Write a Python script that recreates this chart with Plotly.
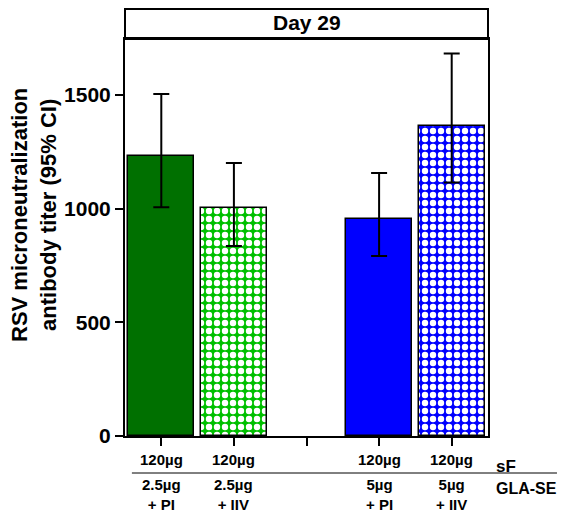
import plotly.graph_objects as go

# ---- data ----
positions = [0, 1, 3, 4]
values = [1232, 1003, 955, 1366]
ci_upper = [1505, 1201, 1157, 1683]
ci_lower = [1007, 836, 792, 1115]
row1_labels = ["120µg", "120µg", "120µg", "120µg"]
row2_labels = ["2.5µg<br>+ PI", "2.5µg<br>+ IIV", "5µg<br>+ PI", "5µg<br>+ IIV"]
y_ticks = [0, 500, 1000, 1500]
panel_title = "Day 29"
y_title = "RSV microneutralization<br>antibody titer (95% CI)"

# ---- styles ----
bar_colors = ["#007000", "#00c000", "#0000ff", "#0000ff"]
patterned = [False, True, False, True]
FONT = "Liberation Sans, Arial, sans-serif"

fig = go.Figure()
for i in range(len(values)):
    marker = dict(color=bar_colors[i], line=dict(color="black", width=1.5))
    if patterned[i]:
        marker["pattern"] = dict(shape=".", fgcolor="white", bgcolor=bar_colors[i],
                                 fillmode="replace", size=8, solidity=0.5)
    fig.add_trace(go.Bar(
        x=[positions[i]], y=[values[i]], width=0.91, marker=marker,
        error_y=dict(type="data", symmetric=False,
                     array=[ci_upper[i] - values[i]],
                     arrayminus=[values[i] - ci_lower[i]],
                     color="black", thickness=2, width=8),
        showlegend=False, hoverinfo="skip"))

annotations = []
for i in range(len(values)):
    annotations.append(dict(x=positions[i], y=-0.06, xref="x", yref="paper",
                            text=row1_labels[i], showarrow=False, yanchor="middle",
                            font=dict(family=FONT, size=15, color="black", weight="bold")))
    annotations.append(dict(x=positions[i], y=-0.147, xref="x", yref="paper",
                            text=row2_labels[i], showarrow=False, yanchor="middle",
                            font=dict(family=FONT, size=15, color="black", weight="bold")))
annotations += [
    dict(x=1.017, y=-0.0756, xref="paper", yref="paper", text="sF", showarrow=False,
         xanchor="left", yanchor="middle",
         font=dict(family=FONT, size=17, color="black", weight="bold")),
    dict(x=1.017, y=-0.131, xref="paper", yref="paper", text="GLA-SE", showarrow=False,
         xanchor="left", yanchor="middle",
         font=dict(family=FONT, size=16, color="black", weight="bold")),
    dict(x=0.5, y=1.0428, xref="paper", yref="paper", text=panel_title, showarrow=False,
         xanchor="center", yanchor="middle",
         font=dict(family=FONT, size=21, color="black", weight="bold")),
    dict(x=-0.2507, y=0.5567, xref="paper", yref="paper", text=y_title, showarrow=False,
         xanchor="center", yanchor="middle", textangle=-90,
         font=dict(family=FONT, size=22, color="black", weight="bold")),
]

shapes = [
    dict(type="rect", xref="paper", yref="paper", x0=0, x1=1, y0=1, y1=1 + 30 / 397,
         line=dict(color="black", width=2), fillcolor="rgba(0,0,0,0)"),
    dict(type="line", xref="paper", yref="paper", x0=0.019, x1=1.19, y0=-0.0932, y1=-0.0932,
         line=dict(color="black", width=1)),
]

# page body has an 8px default margin, so the figure is 8px smaller than the window
fig.update_layout(
    width=561, height=511,
    margin=dict(l=117, r=81, t=31, b=83),
    paper_bgcolor="white", plot_bgcolor="white",
    font=dict(family=FONT, color="black"),
    annotations=annotations, shapes=shapes,
    bargap=0,
)
fig.update_xaxes(range=[-0.5, 4.5], tickvals=[0, 1, 2, 3, 4], ticktext=["", "", "", "", ""],
                 ticks="outside", ticklen=8, tickwidth=2, tickcolor="black",
                 showline=True, linecolor="black", linewidth=2, mirror=True,
                 showgrid=False, zeroline=False, fixedrange=True)
fig.update_yaxes(range=[0, 1747], tickvals=y_ticks, ticks="outside", ticklen=8, tickwidth=2,
                 tickcolor="black", showline=True, linecolor="black", linewidth=2, mirror=True,
                 showgrid=False, zeroline=False,
                 tickfont=dict(family=FONT, size=21, color="black", weight="bold"))

fig.write_html("out.html")
